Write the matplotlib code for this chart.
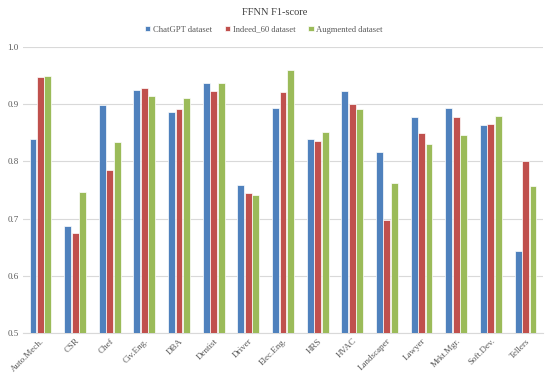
import numpy as np
import matplotlib
matplotlib.use("Agg")
import matplotlib.pyplot as plt

plt.rcParams['font.family'] = ['Liberation Serif', 'DejaVu Serif']

# Data
categories = ["Auto.Mech.", "CSR", "Chef", "Civ.Eng.", "DBA", "Dentist", "Driver",
              "Elec.Eng.", "HRS", "HVAC", "Landscaper", "Lawyer", "Mrkt.Mgr.",
              "Soft.Dev.", "Tellers"]
chatgpt = [0.840, 0.687, 0.899, 0.925, 0.887, 0.938, 0.758, 0.894, 0.839, 0.924,
           0.816, 0.877, 0.893, 0.864, 0.644]
indeed = [0.947, 0.675, 0.785, 0.928, 0.892, 0.923, 0.745, 0.922, 0.835, 0.901,
          0.698, 0.849, 0.878, 0.866, 0.800]
augmented = [0.950, 0.747, 0.834, 0.914, 0.911, 0.937, 0.741, 0.960, 0.851, 0.892,
             0.763, 0.831, 0.847, 0.879, 0.757]
series_names = ["ChatGPT dataset", "Indeed_60 dataset", "Augmented dataset"]
colors = ["#4F81BD", "#C0504D", "#9BBB59"]

fig = plt.figure(figsize=(5.5, 3.8), dpi=100)
ax = fig.add_axes([0.042, 0.124, 0.945, 0.752])

x = np.arange(len(categories))
w = 0.2
for i, (vals, name, c) in enumerate(zip([chatgpt, indeed, augmented], series_names, colors)):
    ax.bar(x + (i - 1) * (w + 0.015), vals, width=w, color=c, edgecolor="white",
           linewidth=0.5, label=name, zorder=3)

ax.set_ylim(0.5, 1.0)
ax.set_xlim(-0.5, len(categories) - 0.5)
ax.set_yticks([0.5, 0.6, 0.7, 0.8, 0.9, 1.0])
ax.set_yticklabels(["0.5", "0.6", "0.7", "0.8", "0.9", "1.0"])
ax.yaxis.grid(True, color="#d9d9d9", linewidth=0.8, zorder=0)
ax.set_xticks(x)
ax.set_xticklabels(categories, rotation=45, ha="right", rotation_mode="anchor")
ax.tick_params(axis="both", length=0, labelsize=6.5, colors="#595959", pad=3)
for s in ["top", "right", "left"]:
    ax.spines[s].set_visible(False)
ax.spines["bottom"].set_color("#d9d9d9")

fig.text(0.5, 0.967, "FFNN F1-score", ha="center", va="center", fontsize=7.5, color="#404040")
fig.legend(loc="center", bbox_to_anchor=(0.48, 0.922), ncol=3, frameon=False,
           fontsize=6.2, handlelength=0.6, handleheight=0.6, handletextpad=0.3,
           columnspacing=1.5, labelcolor="#595959")

fig.savefig("out.png", dpi=100)
